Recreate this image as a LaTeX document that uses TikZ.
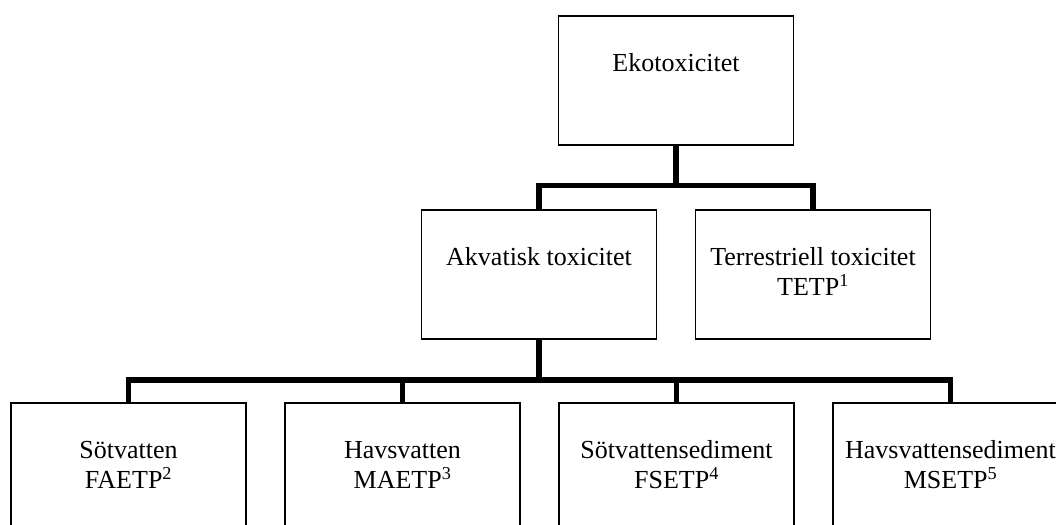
\documentclass[tikz,border=0pt]{standalone}
\usepackage{fontspec}
\setmainfont{Liberation Serif}
\newcommand{\boxtext}[1]{\begin{tabular}[t]{@{}c@{}}#1\end{tabular}}
\begin{document}
\begin{tikzpicture}[x=1pt,y=-1pt,
  box/.style={draw, line width=1.6pt, minimum width=235pt, inner sep=0pt,
    text height=56pt, text depth=73pt, anchor=north,
    font=\fontsize{26}{30}\selectfont},
  conn/.style={line width=5.3pt, line join=miter}]
\useasboundingbox (0,0) rectangle (1056,524);
\clip (0,0) rectangle (1056,524);

% boxes of the hierarchy
\node[box] (eko) at (676,15) {\boxtext{Ekotoxicitet}};
\node[box] (akv) at (539,209) {\boxtext{Akvatisk toxicitet}};
\node[box] (ter) at (813,209) {\boxtext{Terrestriell toxicitet\\TETP\textsuperscript{1}}};
\node[box] (s1) at (128.5,402) {\boxtext{Sötvatten\\FAETP\textsuperscript{2}}};
\node[box] (s2) at (402.5,402) {\boxtext{Havsvatten\\MAETP\textsuperscript{3}}};
\node[box] (s3) at (676.5,402) {\boxtext{Sötvattensediment\\FSETP\textsuperscript{4}}};
\node[box] (s4) at (950.5,402) {\boxtext{Havsvattensediment\\MSETP\textsuperscript{5}}};

% heights of the two bus lines
\coordinate (busA) at (0,185.5);
\coordinate (busB) at (0,380);

% first level connectors
\draw[conn] (eko.south) -- (eko.south |- busA);
\draw[conn] (akv.north) -- (akv.north |- busA) -- (ter.north |- busA) -- (ter.north);

% second level connectors
\draw[conn] (akv.south) -- (akv.south |- busB);
\draw[conn] (s1.north) -- (s1.north |- busB) -- (s4.north |- busB) -- (s4.north);
\draw[conn] (s2.north) -- (s2.north |- busB);
\draw[conn] (s3.north) -- (s3.north |- busB);
\end{tikzpicture}
\end{document}
